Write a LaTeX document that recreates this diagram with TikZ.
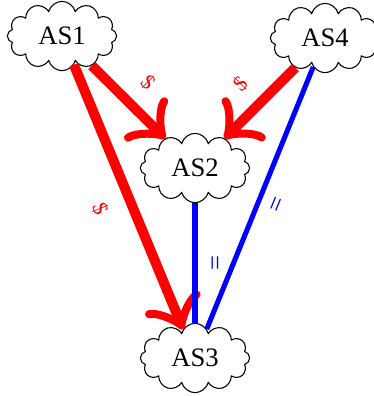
\documentclass[tikz,border=0pt]{standalone}
\usepackage{fontspec}
\setmainfont{Liberation Serif}
\usetikzlibrary{shapes.symbols,arrows.meta}

\begin{document}
\begin{tikzpicture}[x=0.375pt,y=-0.375pt,
  as/.style={draw,cloud,cloud puffs=12,cloud ignores aspect,fill=white,
    minimum width=41pt,minimum height=26pt,inner sep=0pt},
  paid/.style={red,line width=3.75pt,-{Classical TikZ Rightarrow[scale=1.4]}},
  peer/.style={blue,line width=1.9pt},
  tag/.style={sloped,midway}]
\useasboundingbox (0,0) rectangle (374,396);
\node[as] (as1) at (62,36) {AS1};
\node[as] (as4) at (325,38) {AS4};
\node[as] (as2) at (195,168) {AS2};
\node[as] (as3) at (195,358) {AS3};
\draw[paid] (as1) -- node[tag,above=2pt,font=\footnotesize] {\$} (as2);
\draw[paid] (as4) -- node[tag,above=2pt,font=\footnotesize] {\$} (as2);
\draw[paid] (as1) -- node[tag,below=3pt,font=\footnotesize] {\$} (as3);
\draw[peer] (as2) -- node[tag,above=0pt] {=} (as3);
\draw[peer] (as4) -- node[tag,below=1pt] {=} (as3);
\end{tikzpicture}
\end{document}
